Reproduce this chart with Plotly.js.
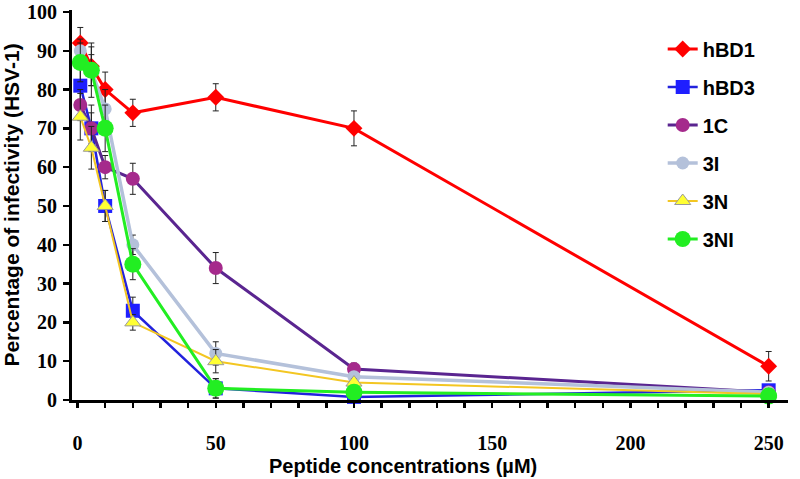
<!DOCTYPE html>
<html>
<head>
<meta charset="utf-8">
<script src="https://cdn.plot.ly/plotly-3.0.1.min.js"></script>
<style>html,body{margin:0;padding:0;background:#fff}#chart{width:800px;height:479px}</style>
</head>
<body>
<div id="chart"></div>
<script>
const concentrations = [1, 5, 10, 20, 50, 100, 250];
const seriesNames = ['hBD1', 'hBD3', '1C', '3I', '3N', '3NI'];
const hBD1 = [92, 86, 80, 74, 78, 70, 8.7];
const hBD1Err = [4, 5, 4.5, 3.5, 3.5, 4.5, 3.8];
const hBD3 = [81, 70, 50, 23, 3, 0.8, 2.5];
const hBD3Err = [5, 6, 4, 3.5, 2.5, 0.5, 1];
const c1C = [76, 70, 60, 57, 34, 8, 2];
const c1CErr = [4, 4, 3, 4, 4, 1.5, 0.5];
const c3I = [90, 85, 75, 40, 12, 6, 2];
const c3IErr = [3, 7, 5, 2.5, 3, 1, 0.5];
const c3N = [73, 65, 50, 20, 10, 4.5, 1.5];
const c3NErr = [6, 5.5, 4, 2, 3, 1, 0.5];
const c3NI = [87, 85, 70, 35, 3, 2, 1];
const c3NIErr = [5, 4, 6, 4, 2.5, 0.5, 0.5];

const ys = [hBD1, hBD3, c1C, c3I, c3N, c3NI];
const errs = [hBD1Err, hBD3Err, c1CErr, c3IErr, c3NErr, c3NIErr];
const styles = [
  {line: '#ff0000', width: 3, marker: '#ff0000', symbol: 'diamond', size: 13, mline: '#ff0000', mlw: 0},
  {line: '#2222dd', width: 2.5, marker: '#1f1fff', symbol: 'square', size: 14, mline: '#1f1fff', mlw: 0},
  {line: '#5a2590', width: 3, marker: '#a52a8c', symbol: 'circle', size: 14, mline: '#a52a8c', mlw: 0},
  {line: '#b4c1da', width: 3.5, marker: '#b4c1da', symbol: 'circle', size: 13, mline: '#b4c1da', mlw: 0},
  {line: '#f3c622', width: 2, marker: '#ffff33', symbol: 'triangle-up', size: 14, mline: '#999999', mlw: 1},
  {line: '#22ee22', width: 3, marker: '#22ee22', symbol: 'circle', size: 17, mline: '#22ee22', mlw: 0}
];

const traces = seriesNames.map((name, i) => ({
  type: 'scatter',
  mode: 'lines+markers',
  name: name,
  legendgroup: name,
  x: concentrations,
  y: ys[i],
  cliponaxis: false,
  line: {color: styles[i].line, width: styles[i].width},
  marker: {color: styles[i].marker, symbol: styles[i].symbol, size: styles[i].size,
           line: {color: styles[i].mline, width: styles[i].mlw}},
  error_y: {type: 'data', array: errs[i], visible: true, color: '#222', thickness: 1, width: 3}
}));

const tickFont = {family: 'Liberation Serif, Times New Roman, serif', size: 20, color: '#000', weight: 'bold'};
const titleFont = {family: 'Liberation Sans, Arial, sans-serif', size: 20, color: '#000', weight: 'bold'};

const layout = {
  width: 800, height: 479,
  margin: {l: 72, r: 12, t: 10, b: 79},
  paper_bgcolor: '#fff', plot_bgcolor: '#fff',
  showlegend: true,
  legend: {x: 0.825, y: 0.95, xanchor: 'left', yanchor: 'top', bgcolor: 'rgba(0,0,0,0)',
           font: {family: 'Liberation Sans, Arial, sans-serif', size: 20, color: '#000', weight: 'bold'},
           tracegroupgap: 9, itemwidth: 30},
  xaxis: {
    range: [-2, 257], showgrid: false, zeroline: false,
    showline: true, linecolor: '#000', linewidth: 3,
    tickmode: 'array', tickvals: [0, 50, 100, 150, 200, 250],
    ticktext: ['0', '50', '100', '150', '200', '250'],
    ticks: 'outside', ticklen: 23, tickwidth: 1, tickcolor: 'rgba(0,0,0,0)',
    minor: {dtick: 10, tick0: 0.01, ticks: 'outside', ticklen: 5, tickwidth: 2.5, tickcolor: '#000'},
    tickfont: tickFont
  },
  yaxis: {
    range: [0, 100.5], showgrid: false, zeroline: false,
    showline: true, linecolor: '#000', linewidth: 3,
    tickmode: 'array', tickvals: [0,10,20,30,40,50,60,70,80,90,100],
    ticks: 'outside', ticklen: 6, tickwidth: 2.5, tickcolor: '#000',
    tickfont: tickFont, ticklabelstandoff: 2,
    title: {text: 'Percentage of infectivity (HSV-1)', font: {family: 'Liberation Sans, Arial, sans-serif', size: 21, color: '#000', weight: 'bold'}, standoff: 8}
  },
  annotations: [{
    text: 'Peptide concentrations (µM)', xref: 'paper', yref: 'paper',
    x: (403 - 72) / 716, y: -0.169, xanchor: 'center', yanchor: 'middle',
    showarrow: false, font: titleFont
  }]
};

Plotly.newPlot('chart', traces, layout, {displayModeBar: false, staticPlot: true});
</script>
</body>
</html>
